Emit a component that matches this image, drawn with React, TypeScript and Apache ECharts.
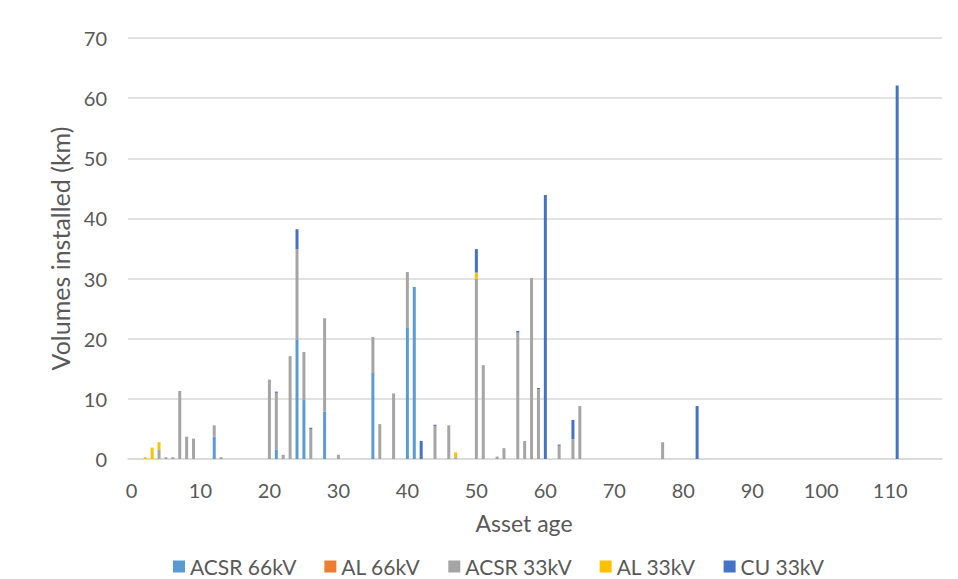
import React, { useEffect, useRef } from "react";
import * as echarts from "echarts";

// Asset ages shown on the category axis (0 .. 117)
const MAX_AGE = 117;
const ageCategories: string[] = Array.from({ length: MAX_AGE + 1 }, (_, i) => String(i));

// [age, km] readings per conductor type
const acsr66kV: [number, number][] = [
  [12, 3.7], [21, 1.6], [24, 19.9], [25, 9.8], [28, 7.9], [35, 14.3], [40, 21.9], [41, 28.6],
];
const al66kV: [number, number][] = [];
const acsr33kV: [number, number][] = [
  [4, 1.6], [5, 0.3], [6, 0.3], [7, 11.3], [8, 3.7], [9, 3.4], [12, 1.9], [13, 0.3],
  [20, 13.2], [21, 9.4], [22, 0.7], [23, 17.1], [24, 15.0], [25, 8.0], [26, 5.0], [28, 15.5],
  [30, 0.7], [35, 6.0], [36, 5.8], [38, 10.9], [40, 9.2], [44, 5.5], [46, 5.6], [47, 0.3],
  [50, 30.0], [51, 15.6], [53, 0.4], [54, 1.8], [56, 21.0], [57, 3.0], [58, 30.1], [59, 11.6],
  [62, 2.2], [64, 3.3], [65, 8.8], [77, 2.8],
];
const al33kV: [number, number][] = [
  [2, 0.3], [3, 1.9], [4, 1.2], [47, 0.8], [50, 1.0],
];
const cu33kV: [number, number][] = [
  [21, 0.2], [24, 3.3], [26, 0.2], [42, 3.0], [44, 0.2], [50, 3.9], [56, 0.3], [59, 0.2],
  [60, 43.9], [62, 0.2], [64, 3.2], [82, 8.8], [111, 62.1],
];

const seriesNames = ["ACSR 66kV", "AL 66kV", "ACSR 33kV", "AL 33kV", "CU 33kV"];
const seriesColors = ["#5B9BD5", "#ED7D31", "#A5A5A5", "#FFC000", "#4472C4"];
const seriesReadings = [acsr66kV, al66kV, acsr33kV, al33kV, cu33kV];

const yTicks = { min: 0, max: 70, interval: 10 };

function toCategoryData(points: [number, number][]): (number | null)[] {
  const out: (number | null)[] = ageCategories.map(() => null);
  points.forEach(([age, v]) => {
    out[age] = v;
  });
  return out;
}

const FONT = "Lato, 'Open Sans', sans-serif";
const TEXT = "#595959";
const GRID = "#D9D9D9";

export default function App() {
  const ref = useRef<HTMLDivElement>(null);

  useEffect(() => {
    if (!ref.current) return;
    const chart = echarts.init(ref.current, undefined, { renderer: "svg" });
    chart.setOption({
      animation: false,
      backgroundColor: "#FFFFFF",
      textStyle: { fontFamily: FONT },
      grid: { left: 128, right: 16, top: 38, bottom: 120, containLabel: false },
      legend: {
        data: seriesNames,
        top: 551,
        left: 168,
        icon: "rect",
        itemWidth: 12,
        itemHeight: 12,
        itemGap: 28,
        textStyle: { color: TEXT, fontSize: 21, fontFamily: FONT },
      },
      xAxis: {
        type: "category",
        data: ageCategories,
        name: "Asset age",
        nameLocation: "middle",
        nameGap: 52,
        nameTextStyle: { color: TEXT, fontSize: 23, fontFamily: FONT, padding: [0, 22, 0, 0] },
        axisLine: { show: true, lineStyle: { color: GRID, width: 1.5 } },
        axisTick: { show: false },
        axisLabel: { interval: 9, color: TEXT, fontSize: 20, margin: 21, fontFamily: FONT },
        splitLine: { show: false },
      },
      yAxis: {
        type: "value",
        min: yTicks.min,
        max: yTicks.max,
        interval: yTicks.interval,
        name: "Volumes installed (km)",
        nameLocation: "middle",
        nameGap: 55,
        nameRotate: 90,
        nameTextStyle: { color: TEXT, fontSize: 25, fontFamily: FONT },
        axisLine: { show: false },
        axisTick: { show: false },
        axisLabel: { color: TEXT, fontSize: 20, margin: 21, fontFamily: FONT },
        splitLine: { lineStyle: { color: GRID, width: 1.5 } },
      },
      series: seriesNames.map((name, i) => ({
        name,
        type: "bar",
        stack: "total",
        barWidth: 3,
        itemStyle: { color: seriesColors[i] },
        data: toCategoryData(seriesReadings[i]),
      })),
    });
    return () => chart.dispose();
  }, []);

  return (
    <div
      ref={ref}
      style={{ position: "fixed", left: 0, top: 0, width: 958, height: 579, background: "#fff" }}
    />
  );
}
